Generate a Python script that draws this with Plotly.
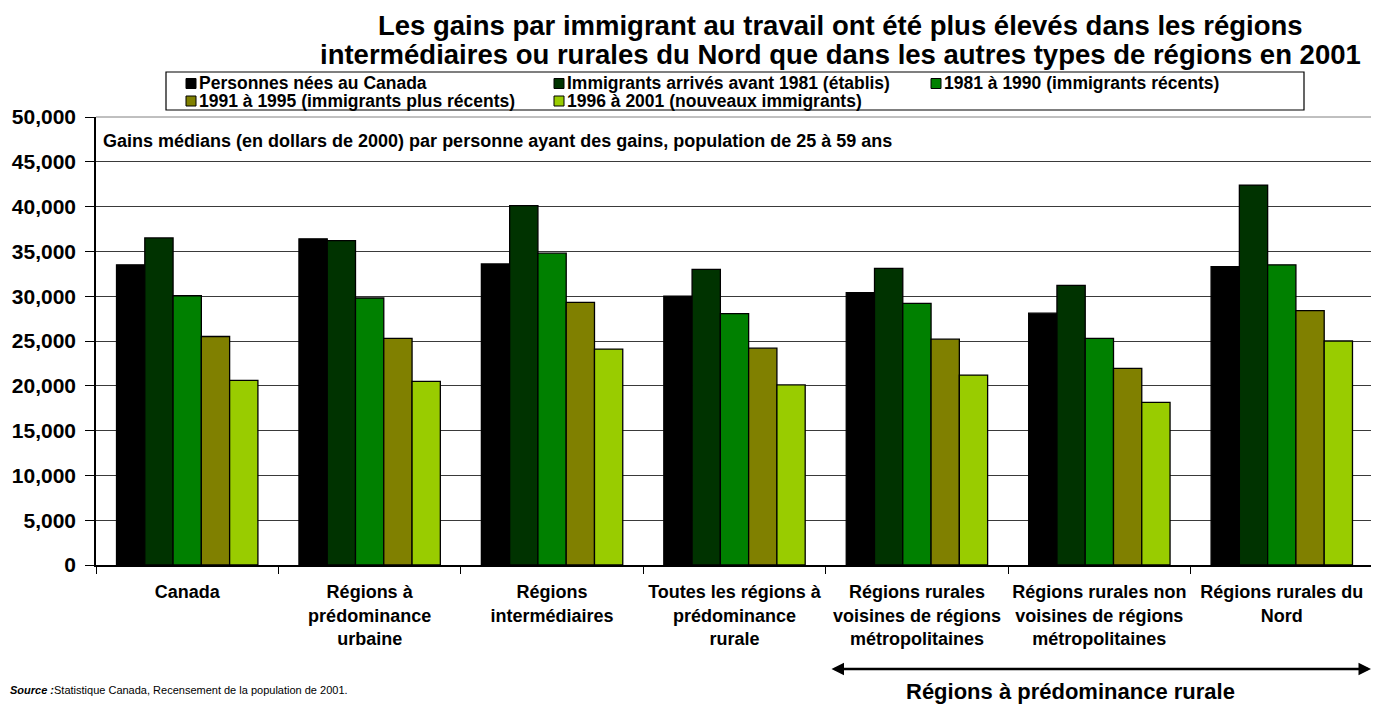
import plotly.graph_objects as go

categories = [
    "Canada",
    "Régions à<br>prédominance<br>urbaine",
    "Régions<br>intermédiaires",
    "Toutes les régions à<br>prédominance<br>rurale",
    "Régions rurales<br>voisines de régions<br>métropolitaines",
    "Régions rurales non<br>voisines de régions<br>métropolitaines",
    "Régions rurales du<br>Nord",
]

series_names = [
    "Personnes nées au Canada",
    "Immigrants arrivés avant 1981 (établis)",
    "1981 à 1990 (immigrants récents)",
    "1991 à 1995 (immigrants plus récents)",
    "1996 à 2001 (nouveaux immigrants)",
]

nes_canada = [33500, 36400, 33600, 30000, 30400, 28100, 33300]
avant_1981 = [36500, 36200, 40100, 33000, 33100, 31200, 42400]
de_1981_1990 = [30050, 29800, 34800, 28050, 29200, 25300, 33500]
de_1991_1995 = [25500, 25300, 29300, 24200, 25200, 21950, 28400]
de_1996_2001 = [20600, 20500, 24100, 20100, 21200, 18150, 25000]

colors = ["#000000", "#003300", "#008000", "#808000", "#99CC00"]

y_ticks = [0, 5000, 10000, 15000, 20000, 25000, 30000, 35000, 40000, 45000, 50000]
y_tick_labels = ["0", "5,000", "10,000", "15,000", "20,000", "25,000", "30,000",
                 "35,000", "40,000", "45,000", "50,000"]

FONT = "Arial, Liberation Sans, sans-serif"
# the page body adds an 8px offset; size the figure so it fills the window
OFF = 8
W, H = 1379 - OFF, 706 - OFF
PL, PR, PT, PB = 96, 1373, 117, 565          # plot area in window pixels
L, R, T, B = PL - OFF, (W + OFF) - PR, PT - OFF, (H + OFF) - PB
pw = PR - PL
ph = PB - PT


def px_x(x):
    return (x - PL) / pw


def px_y(y):
    return (PB - y) / ph


fig = go.Figure()
for name, vals, col in zip(series_names,
                           [nes_canada, avant_1981, de_1981_1990, de_1991_1995, de_1996_2001],
                           colors):
    fig.add_trace(go.Bar(
        x=categories, y=vals, name=name,
        marker=dict(color=col, line=dict(color="#000000", width=1.3)),
    ))

fig.update_layout(
    width=W, height=H,
    margin=dict(l=L, r=R, t=T, b=B, autoexpand=False),
    barmode="group", bargap=0.225, bargroupgap=0,
    plot_bgcolor="white", paper_bgcolor="white",
    font=dict(family=FONT, color="#000000"),
    showlegend=False,
    xaxis=dict(
        showline=True, linecolor="#000000", linewidth=1.5,
        ticks="outside", ticklen=7, tickcolor="#000000",
        tickson="boundaries", tickangle=0,
        tickfont=dict(family=FONT, size=18, color="#000000", weight="bold"),
        ticklabelstandoff=10,
        showgrid=False, automargin=False,
    ),
    yaxis=dict(
        range=[0, 50000],
        tickvals=y_ticks, ticktext=y_tick_labels,
        showline=True, linecolor="#000000", linewidth=1.5,
        ticks="outside", ticklen=9, tickcolor="#000000",
        tickfont=dict(family=FONT, size=21, color="#000000", weight="bold"),
        ticklabelstandoff=5,
        showgrid=True, gridcolor="#3a3a3a", gridwidth=1,
        zeroline=False, automargin=False,
    ),
)

shapes = []
# plot-area frame (top and right)
shapes.append(dict(type="line", xref="paper", yref="paper", x0=0, x1=1, y0=1, y1=1,
                   line=dict(color="#808080", width=1)))
shapes.append(dict(type="line", xref="paper", yref="paper", x0=1, x1=1, y0=0, y1=1,
                   line=dict(color="#808080", width=1.5)))

annotations = []
# title
annotations.append(dict(
    text="<b>Les gains par immigrant au travail ont été plus élevés dans les régions</b>",
    xref="paper", yref="paper", x=px_x(840), y=px_y(25),
    xanchor="center", yanchor="middle", showarrow=False,
    font=dict(size=27.5, family=FONT, color="#000000")))
annotations.append(dict(
    text="<b>intermédiaires ou rurales du Nord que dans les autres types de régions en 2001</b>",
    xref="paper", yref="paper", x=px_x(840), y=px_y(55),
    xanchor="center", yanchor="middle", showarrow=False,
    font=dict(size=27.5, family=FONT, color="#000000")))

# legend (manual, built from series names and colours)
leg_left, leg_right, leg_top, leg_bot = 166, 1304, 72, 110
shapes.append(dict(type="rect", xref="paper", yref="paper",
                   x0=px_x(leg_left), x1=px_x(leg_right), y0=px_y(leg_bot), y1=px_y(leg_top),
                   line=dict(color="#000000", width=1.2), fillcolor="white", layer="above"))
leg_cols = [186, 554, 931]
leg_rows = [83.5, 101]
for i, (name, col) in enumerate(zip(series_names, colors)):
    r, c = divmod(i, 3)
    sx, sy = leg_cols[c], leg_rows[r]
    shapes.append(dict(type="rect", xref="paper", yref="paper",
                       x0=px_x(sx), x1=px_x(sx + 10), y0=px_y(sy + 5), y1=px_y(sy - 5),
                       line=dict(color="#000000", width=1), fillcolor=col, layer="above"))
    annotations.append(dict(
        text="<b>" + name + "</b>", xref="paper", yref="paper",
        x=px_x(sx + 11), y=px_y(sy), xanchor="left", yanchor="middle", showarrow=False,
        font=dict(size=17.5, family=FONT, color="#000000")))

annotations.append(dict(
    text="<b>Gains médians (en dollars de 2000) par personne ayant des gains, population de 25 à 59 ans</b>",
    xref="paper", yref="paper", x=px_x(101), y=px_y(141),
    xanchor="left", yanchor="middle", showarrow=False,
    font=dict(size=18, family=FONT, color="#000000")))
# arrow spanning rural regions
annotations.append(dict(
    text="", xref="paper", yref="paper",
    x=px_x(1371), y=px_y(669),
    ax=-(1371 - 830), ay=0, axref="pixel", ayref="pixel",
    showarrow=True, arrowhead=2, arrowside="end+start", arrowsize=1, arrowwidth=2.5,
    arrowcolor="#000000"))
annotations.append(dict(
    text="<b>Régions à prédominance rurale</b>",
    xref="paper", yref="paper", x=px_x(1070), y=px_y(691),
    xanchor="center", yanchor="middle", showarrow=False,
    font=dict(size=22, family=FONT, color="#000000")))
annotations.append(dict(
    text="<b><i>Source :</i></b>Statistique Canada, Recensement de la population de 2001.",
    xref="paper", yref="paper", x=px_x(8), y=px_y(690),
    xanchor="left", yanchor="middle", showarrow=False,
    font=dict(size=11, family=FONT, color="#000000")))
fig.update_layout(annotations=annotations, shapes=shapes)

fig.write_html("out.html")
